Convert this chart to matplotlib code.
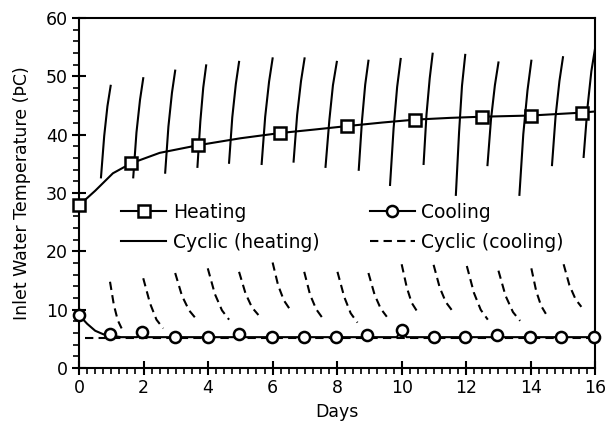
#!/usr/bin/env python
# coding: utf-8

import matplotlib
matplotlib.use('Agg')
import matplotlib.pyplot as plt
from matplotlib.lines import Line2D
from matplotlib.ticker import MultipleLocator

# heating line (smooth) and its square markers
heat_days = [0, 0.5, 1.05, 1.61, 2.5, 3.68, 5.0, 6.23, 7.3, 8.32, 9.4, 10.42, 11.5, 12.49, 14.0, 15.59, 16]
heat_vals = [27.9, 30.4, 33.4, 35.1, 36.9, 38.2, 39.4, 40.3, 40.9, 41.5, 42.1, 42.6, 42.9, 43.1, 43.3, 43.8, 44.0]
heat_mark_days = [0, 1.61, 3.68, 6.23, 8.32, 10.42, 12.49, 14.0, 15.59]
heat_mark_vals = [27.9, 35.1, 38.2, 40.3, 41.5, 42.6, 43.1, 43.3, 43.8]

# cooling line and its circle markers
cool_days = [0, 0.25, 0.5, 0.75, 0.96, 1.3, 1.8, 1.94, 2.1, 2.98, 3.99, 4.8, 4.96, 5.1,
             5.97, 6.96, 7.97, 8.8, 8.94, 9.1, 9.85, 10.0, 10.15, 10.99, 11.97, 12.8,
             12.95, 13.1, 13.98, 14.95, 15.95, 16]
cool_vals = [9.1, 7.6, 6.4, 5.8, 5.6, 5.3, 5.3, 6.0, 5.3, 5.3, 5.3, 5.3, 5.8, 5.3,
             5.3, 5.3, 5.3, 5.3, 5.7, 5.3, 5.3, 6.6, 5.3, 5.3, 5.3, 5.3,
             5.6, 5.3, 5.3, 5.3, 5.3, 5.3]
cool_mark_days = [0, 0.96, 1.94, 2.98, 3.99, 4.96, 5.97, 6.96, 7.97, 8.94, 10.0, 10.99,
                  11.97, 12.95, 13.98, 14.95, 15.95]
cool_mark_vals = [9.1, 5.8, 6.1, 5.3, 5.3, 5.8, 5.3, 5.3, 5.3, 5.7, 6.6, 5.3,
                  5.3, 5.6, 5.3, 5.3, 5.3]

# cyclic heating: one rising segment per day
cyc_heat_days = [
    [0.68, 0.78, 0.88, 0.98], [1.68, 1.78, 1.89, 1.99], [2.67, 2.77, 2.88, 2.98],
    [3.67, 3.76, 3.85, 3.94], [4.65, 4.75, 4.86, 4.96], [5.66, 5.77, 5.89, 6.00],
    [6.65, 6.76, 6.88, 6.99], [7.64, 7.76, 7.87, 7.99], [8.67, 8.77, 8.87, 8.97],
    [9.64, 9.75, 9.86, 9.97], [10.68, 10.77, 10.87, 10.96], [11.68, 11.78, 11.87, 11.97],
    [12.66, 12.77, 12.89, 13.00], [13.65, 13.77, 13.90, 14.02], [14.66, 14.77, 14.89, 15.00],
    [15.64, 15.76, 15.88, 16.00],
]
cyc_heat_vals = [
    [32.7, 39.8, 44.9, 48.4], [32.7, 40.4, 46.0, 49.7], [33.5, 41.4, 47.2, 51.0],
    [34.5, 42.3, 48.1, 51.9], [35.2, 43.0, 48.7, 52.5], [35.0, 43.1, 49.1, 53.1],
    [35.4, 43.4, 49.2, 53.1], [34.5, 42.6, 48.5, 52.5], [34.0, 42.4, 48.6, 52.7],
    [31.4, 41.1, 48.2, 53.0], [35.0, 43.5, 49.7, 53.9], [29.7, 40.5, 48.4, 53.7],
    [34.8, 42.7, 48.5, 52.4], [29.7, 40.1, 47.6, 52.7], [34.8, 43.1, 49.2, 53.3],
    [36.2, 44.7, 50.9, 55.0],
]

# cyclic cooling: baseline plus one falling segment per day
cyc_cool_base_days = [0.2, 16]
cyc_cool_base_vals = [5.2, 5.2]
cyc_cool_days = [
    [0.96, 1.08, 1.20, 1.32], [1.99, 2.20, 2.40, 2.61], [2.98, 3.19, 3.41, 3.62],
    [3.99, 4.21, 4.43, 4.65], [4.96, 5.16, 5.36, 5.56], [6.00, 6.17, 6.35, 6.52],
    [6.98, 7.16, 7.35, 7.53], [8.01, 8.22, 8.42, 8.63], [8.97, 9.16, 9.35, 9.54],
    [10.00, 10.16, 10.31, 10.47], [10.99, 11.18, 11.37, 11.56], [12.02, 12.24, 12.45, 12.67],
    [13.00, 13.22, 13.45, 13.67], [14.02, 14.17, 14.32, 14.47], [15.02, 15.20, 15.39, 15.57],
]
cyc_cool_vals = [
    [14.8, 10.8, 8.2, 6.8], [15.4, 11.1, 8.3, 6.8], [16.3, 12.4, 9.9, 8.5],
    [17.1, 12.7, 9.9, 8.3], [16.5, 12.8, 10.4, 9.1], [18.1, 14.2, 11.6, 10.2],
    [16.5, 12.6, 10.1, 8.7], [16.5, 12.2, 9.4, 7.8], [16.3, 12.6, 10.2, 8.8],
    [17.8, 13.8, 11.2, 9.8], [17.7, 13.8, 11.3, 9.9], [17.5, 12.9, 10.0, 8.3],
    [16.7, 12.4, 9.6, 8.1], [17.1, 13.2, 10.7, 9.3], [17.8, 14.2, 11.8, 10.5],
]

FS = 12.5
LEG_FS = 13.5
LW = 1.5
DASH = (4, 2.5)

plt.rcParams['font.family'] = ['DejaVu Sans']
fig = plt.figure(figsize=(6.08, 4.32), dpi=100)
ax = fig.add_axes([0.130, 0.148, 0.849, 0.810])

for d, v in zip(cyc_heat_days, cyc_heat_vals):
    ax.plot(d, v, color='black', lw=LW, zorder=2)
ax.plot(cyc_cool_base_days, cyc_cool_base_vals, color='black', lw=LW, dashes=DASH, zorder=2)
for d, v in zip(cyc_cool_days, cyc_cool_vals):
    ax.plot(d, v, color='black', lw=LW, dashes=DASH, zorder=2)

ax.plot(heat_days, heat_vals, color='black', lw=LW, zorder=3)
ax.plot(heat_mark_days, heat_mark_vals, ls='none', marker='s', ms=9, mfc='white',
        mec='black', mew=1.8, zorder=4, clip_on=False)
ax.plot(cool_days, cool_vals, color='black', lw=LW, zorder=3)
ax.plot(cool_mark_days, cool_mark_vals, ls='none', marker='o', ms=8, mfc='white',
        mec='black', mew=1.8, zorder=4, clip_on=False)

ax.set_xlim(0, 16)
ax.set_ylim(0, 60)
ax.xaxis.set_major_locator(MultipleLocator(2))
ax.xaxis.set_minor_locator(MultipleLocator(0.25))
ax.yaxis.set_major_locator(MultipleLocator(10))
ax.yaxis.set_minor_locator(MultipleLocator(2))
ax.tick_params(which='major', direction='inout', length=10, width=1.5, labelsize=FS,
               pad=3, top=False, right=False)
ax.tick_params(which='minor', direction='out', length=4, width=1.2, top=False, right=False)
for s in ax.spines.values():
    s.set_linewidth(1.5)

ax.set_xlabel('Days', fontsize=FS, labelpad=4)
ax.set_ylabel('Inlet Water Temperature (ÞC)', fontsize=FS, labelpad=11)

handles = [
    Line2D([], [], color='black', lw=LW, marker='s', ms=9, mfc='white', mec='black', mew=1.8),
    Line2D([], [], color='black', lw=LW),
    Line2D([], [], color='black', lw=LW, marker='o', ms=8, mfc='white', mec='black', mew=1.8),
    Line2D([], [], color='black', lw=LW, dashes=DASH),
]
labels = ['Heating', 'Cyclic (heating)', 'Cooling', 'Cyclic (cooling)']
ax.legend(handles, labels, ncol=2, loc='upper left', bbox_to_anchor=(0.056, 0.51),
          frameon=False, fontsize=LEG_FS, handlelength=2.4, handletextpad=0.35,
          columnspacing=2.7, labelspacing=0.6, borderpad=0.2)

fig.savefig('out.png', dpi=100)
